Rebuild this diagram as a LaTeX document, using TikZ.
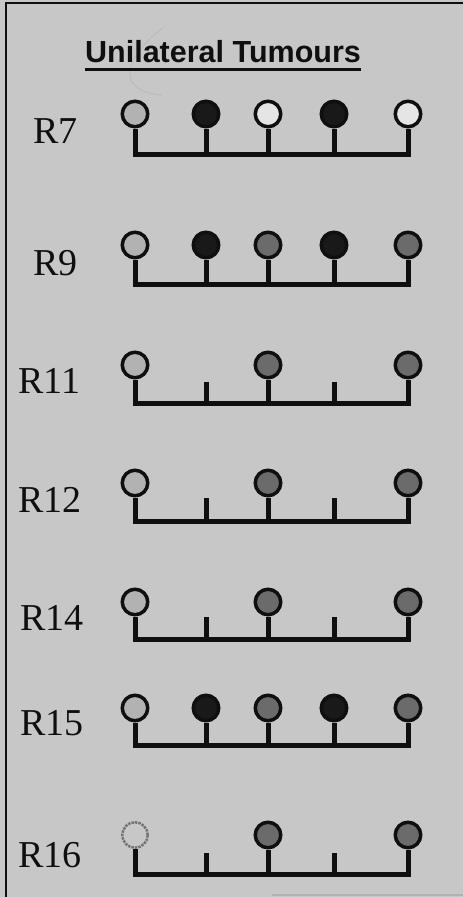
\documentclass[tikz,border=0pt]{standalone}
\usepackage{fontspec}
\setmainfont{Liberation Serif}
\newfontfamily\titlefont{Liberation Sans}
\definecolor{bgc}{gray}{0.78}
\definecolor{inkc}{gray}{0.06}
\definecolor{lightf}{gray}{0.70}
\definecolor{openf}{gray}{0.90}
\definecolor{darkf}{gray}{0.42}
\definecolor{blackf}{gray}{0.10}
\definecolor{faintd}{gray}{0.45}
\tikzset{
  cell/.style={circle, minimum size=25.5pt, inner sep=0pt, line width=3.5pt, draw=inkc},
  lightc/.style={fill=lightf},
  openc/.style={fill=openf},
  darkc/.style={fill=darkf},
  blackc/.style={fill=blackf},
  faintc/.style={fill=bgc, draw=faintd, line width=2.5pt, dash pattern=on 2.5pt off 1pt},
  barline/.style={line width=5pt, draw=inkc, line join=miter},
  lbl/.style={inner sep=0pt, anchor=base west, font=\fontsize{38}{40}\selectfont, text=inkc},
  frame/.style={line width=2.5pt, draw=inkc},
}
\newcommand\fiverow[8]{%
  \node[cell,#4] (#1a) at (135,#2) {};
  \node[cell,#5] (#1b) at (206,#2) {};
  \node[cell,#6] (#1c) at (268,#2) {};
  \node[cell,#7] (#1d) at (334,#2) {};
  \node[cell,#8] (#1e) at (408,#2) {};
  \coordinate (#1bar) at (135,#3);
  \draw[barline] (#1a.south) -- (#1a |- #1bar) -- (#1e |- #1bar) -- (#1e.south);
  \draw[barline] (#1b.south) -- (#1b |- #1bar);
  \draw[barline] (#1c.south) -- (#1c |- #1bar);
  \draw[barline] (#1d.south) -- (#1d |- #1bar);
}
\newcommand\threerow[7]{%
  \node[cell,#5] (#1a) at (135,#2) {};
  \node[cell,#6] (#1c) at (268,#2) {};
  \node[cell,#7] (#1e) at (408,#2) {};
  \coordinate (#1bar) at (135,#3);
  \coordinate (#1tb) at (206,#4);
  \coordinate (#1td) at (334,#4);
  \draw[barline] (#1a.south) -- (#1a |- #1bar) -- (#1e |- #1bar) -- (#1e.south);
  \draw[barline] (#1c.south) -- (#1c |- #1bar);
  \draw[barline] (#1tb) -- (#1tb |- #1bar);
  \draw[barline] (#1td) -- (#1td |- #1bar);
}
\begin{document}
\begin{tikzpicture}[x=1pt, y=-1pt]
  \fill[bgc] (0,0) rectangle (463,897);
  \useasboundingbox (0,0) rectangle (463,897);
  % frame
  \coordinate (ftl) at (6,3);
  \coordinate (ftr) at (463,3);
  \coordinate (fbl) at (6,897);
  \draw[frame] (fbl) -- (ftl) -- (ftr);
  \coordinate (bl1) at (272,895);
  \coordinate (bl2) at (463,895);
  \draw[gray!60, line width=1.5pt] (bl1) -- (bl2);
  % pencil mark
  \coordinate (pm1) at (164,27);
  \coordinate (pm2) at (162,95);
  \draw[gray!55, line width=0.8pt] (pm1) .. controls (120,60) and (118,92) .. (pm2);
  % title
  \node[inner sep=0pt, anchor=base, font=\titlefont\bfseries\fontsize{30.5}{33}\selectfont, text=inkc] (title) at (223,62) {Unilateral Tumours};
  \draw[inkc, line width=2.2pt] ([yshift=-7pt]title.south west) -- ([yshift=-7pt]title.south east);
  % labels
  \node[lbl] (l7) at (33,143) {R7};
  \node[lbl] (l9) at (33,275) {R9};
  \node[lbl] (l11) at (18,393) {R11};
  \node[lbl] (l12) at (18,512) {R12};
  \node[lbl] (l14) at (20,630) {R14};
  \node[lbl] (l15) at (20,735) {R15};
  \node[lbl] (l16) at (18,867) {R16};
  % rows
  \fiverow{r7}{114}{154}{lightc}{blackc}{openc}{blackc}{openc}
  \fiverow{r9}{245}{284}{lightc}{blackc}{darkc}{blackc}{darkc}
  \threerow{r11}{365}{403}{382}{lightc}{darkc}{darkc}
  \threerow{r12}{483}{521}{498}{lightc}{darkc}{darkc}
  \threerow{r14}{602}{639}{617}{lightc}{darkc}{darkc}
  \fiverow{r15}{708}{745}{lightc}{blackc}{darkc}{blackc}{darkc}
  \threerow{r16}{835}{874}{853}{faintc}{darkc}{darkc}
\end{tikzpicture}
\end{document}
